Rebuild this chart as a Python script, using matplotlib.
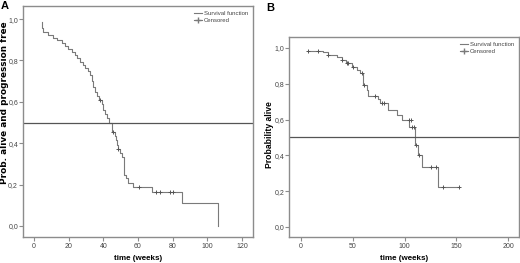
import matplotlib
matplotlib.use("Agg")
from matplotlib import pyplot as plt
from matplotlib.lines import Line2D

plt.rcParams["font.family"] = ["Liberation Sans", "DejaVu Sans"]

# Panel A: progression free survival (event times in weeks, survival after step)
a_times = [4.4, 4.7, 5.3, 8.2, 11.1, 13.1, 16.0, 17.9, 19.8, 21.8, 23.7, 24.6, 26.5, 28.4,
           29.4, 31.3, 32.3, 33.3, 34.2, 35.5, 36.5, 37.5, 39.0, 40.0, 41.0, 42.0, 43.5,
           44.8, 45.3, 46.5, 47.2, 48.0, 48.3, 49.5, 50.5, 51.8, 53.0, 54.4, 57.3, 67.9,
           85.2, 106.4, 106.4]
a_surv = [0.985, 0.955, 0.94, 0.925, 0.91, 0.90, 0.885, 0.87, 0.855, 0.84, 0.825, 0.81,
          0.795, 0.78, 0.765, 0.75, 0.73, 0.70, 0.67, 0.65, 0.63, 0.61, 0.59, 0.56, 0.54,
          0.52, 0.50, 0.48, 0.455, 0.435, 0.415, 0.39, 0.372, 0.355, 0.335, 0.245, 0.23,
          0.21, 0.19, 0.165, 0.11, 0.11, 0.0]
a_cens_t = [38.0, 45.8, 48.7, 60.8, 70.6, 72.5, 78.4, 80.4]
a_cens_s = [0.61, 0.455, 0.372, 0.19, 0.165, 0.165, 0.165, 0.165]

# Panel B: overall survival
b_times = [6.4, 21.6, 26.4, 34.5, 39.3, 43.5, 49.0, 53.8, 57.0, 60.2, 63.4, 65.0, 74.7,
           76.5, 84.4, 92.5, 97.3, 104.6, 110.1, 112.7, 116.6, 132.7, 153.0]
b_surv = [0.98, 0.976, 0.96, 0.948, 0.933, 0.915, 0.896, 0.877, 0.859, 0.793, 0.765,
          0.733, 0.713, 0.69, 0.654, 0.626, 0.598, 0.56, 0.458, 0.40, 0.333, 0.222, 0.222]
b_cens_t = [6.4, 16.1, 26.4, 39.3, 44.8, 45.8, 50.6, 58.5, 61.0, 71.5, 77.9, 80.2, 104.0,
            106.3, 107.5, 109.0, 110.8, 113.5, 125.5, 130.8, 137.6, 152.7]
b_cens_s = [0.98, 0.98, 0.96, 0.933, 0.915, 0.915, 0.896, 0.859, 0.793, 0.733, 0.69, 0.69,
            0.598, 0.598, 0.56, 0.56, 0.458, 0.40, 0.333, 0.333, 0.222, 0.222]

yticks = [0.0, 0.2, 0.4, 0.6, 0.8, 1.0]
ytick_labels = ["0,0", "0,2", "0,4", "0,6", "0,8", "1,0"]

curve_color = "#7a7a7a"
frame_color = "#8c8c8c"
text_color = "#444444"

fig = plt.figure(figsize=(5.2, 2.63), dpi=100)
ax_a = fig.add_axes([0.0442, 0.0989, 0.4423, 0.878])
ax_b = fig.add_axes([0.5558, 0.0989, 0.4423, 0.7605])


def km_panel(ax, times, surv, cens_t, cens_s, xlim, ylim, xticks):
    ax.step(times, surv, where="post", color=curve_color, lw=0.8)
    ax.plot(cens_t, cens_s, ls="none", marker="+", ms=3.5, mew=0.7, color="#555555")
    ax.axhline(0.5, color="#555555", lw=0.9)
    ax.set_xlim(xlim)
    ax.set_ylim(ylim)
    ax.set_xticks(xticks)
    ax.set_xticklabels([str(t) for t in xticks])
    ax.set_yticks(yticks)
    ax.set_yticklabels(ytick_labels)
    ax.tick_params(labelsize=5, colors=frame_color, labelcolor=text_color,
                   length=3, width=0.8, pad=1.2)
    ax.tick_params(axis="y", pad=0.5)
    for sp in ax.spines.values():
        sp.set_color(frame_color)
        sp.set_linewidth(1.0)
    handles = [Line2D([], [], color=curve_color, lw=0.8, drawstyle="steps-post"),
               Line2D([], [], color=curve_color, lw=0.8, marker="+", ms=4)]
    ax.legend(handles, ["Survival function", "Censored"], loc="upper right",
              fontsize=4.3, frameon=False, handlelength=1.3, handletextpad=0.3,
              labelspacing=0.25, borderaxespad=0.4, labelcolor=text_color)


km_panel(ax_a, a_times, a_surv, a_cens_t, a_cens_s, (-6.3, 126.3), (-0.053, 1.063),
         [0, 20, 40, 60, 80, 100, 120])
km_panel(ax_b, b_times, b_surv, b_cens_t, b_cens_s, (-11.6, 210.6), (-0.056, 1.061),
         [0, 50, 100, 150, 200])

# axis titles placed as in the reference
fig.text(0.265, 0.019, "time (weeks)", fontsize=5.8, fontweight="bold",
         ha="center", va="center")
fig.text(0.777, 0.019, "time (weeks)", fontsize=5.8, fontweight="bold",
         ha="center", va="center")
fig.text(0.0087, 0.61, "Prob. alive and progression free", fontsize=6.4, fontweight="bold",
         family="DejaVu Sans", rotation=90, ha="center", va="center")
fig.text(0.519, 0.49, "Probability alive", fontsize=6.2, fontweight="bold",
         rotation=90, ha="center", va="center")

fig.text(0.002, 0.998, "A", fontsize=8, fontweight="bold", va="top", ha="left")
fig.text(0.512, 0.988, "B", fontsize=8, fontweight="bold", va="top", ha="left")

fig.savefig("out.png", dpi=100)
